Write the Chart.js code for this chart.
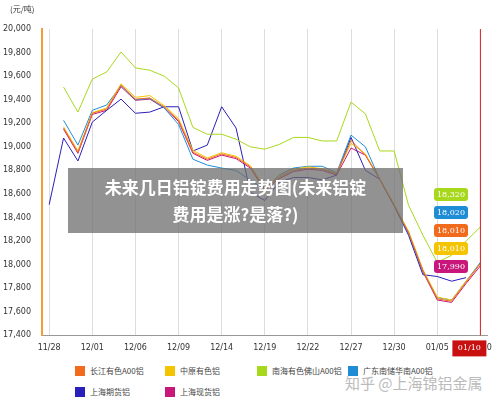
<!DOCTYPE html>
<html><head><meta charset="utf-8">
<script src="https://cdn.jsdelivr.net/npm/chart.js@4"></script>
<style>
body{margin:0;background:#fff;font-family:"Noto Sans CJK SC","DejaVu Sans",sans-serif;}
#wrap{position:relative;width:500px;height:407px;}
#c{position:absolute;left:0;top:0;}
.unit{position:absolute;left:10px;top:3px;font-size:8px;color:#333;}
.banner{position:absolute;left:68px;top:168px;width:335px;height:65px;background:rgba(110,110,110,0.75);color:#fff;font-weight:bold;font-size:17px;text-align:center;line-height:27px;padding-top:5px;box-sizing:border-box;}
.lg{position:absolute;font-size:8px;color:#444;display:flex;align-items:center;}
.lg i{display:inline-block;width:10px;height:10px;margin-right:5px;}
.wm{position:absolute;left:345px;top:372px;font-size:15px;color:#bbb;}
</style></head><body>
<div id="wrap">
<canvas id="c" width="500" height="361"></canvas>
<div class="unit">(元/吨)</div>
<div class="banner">未来几日铝锭费用走势图(未来铝锭<br>费用是涨?是落?)</div>
<div id="legend"></div>
<div class="wm">知乎 @上海锦铝金属</div>
</div>
<script>
const tickDates = ['11/28','12/01','12/06','12/09','12/14','12/19','12/22','12/27','12/30','01/05','01/10'];
const categories = [];
tickDates.forEach((d,i)=>{categories.push(d); if(i<tickDates.length-1){categories.push(d+' '); categories.push(d+'  ');}});
const seriesNames = ['长江有色A00铝','中原有色铝','南海有色佛山A00铝','广东南储华南A00铝','上海期货铝','上海现货铝'];
const seriesColors = ['#f26b1d','#f5c400','#a8d81c','#1f8dd6','#2a1fb8','#c9167a'];
const changjiang = [null,19160,18955,19285,19320,19525,19405,19415,19340,19225,18955,18895,18940,18910,18830,18640,18740,18800,18820,18810,18770,19055,18930,18725,18505,18275,17950,17710,17690,17850,18010];
const zhongyuan  = [null,19170,18965,19290,19330,19535,19420,19435,19350,19240,18970,18905,18950,18920,18840,18650,18750,18810,18830,18815,18775,19030,18940,18730,18510,18285,17960,17725,17700,17860,18010];
const nanhai     = [null,19507,19295,19575,19635,19805,19670,19650,19600,19500,19165,19107,19107,19065,19000,18980,19020,19080,19080,19050,19050,19380,19280,18965,18965,18505,18250,18020,18080,18200,18320];
const guangdong  = [null,19225,19015,19310,19355,19520,19400,19410,19330,19190,18895,18845,18820,18800,18715,18640,18760,18820,18835,18835,18780,19100,19000,18725,18500,18270,17950,17720,17700,17860,18020];
const shfutures  = [18510,19075,18880,19210,19310,19405,19285,19295,19340,19340,18965,19015,19340,19160,18615,18545,18700,18740,18740,18720,18760,19080,18800,18725,18500,18250,17915,17900,17860,17890,null];
const shspot     = [null,19150,18945,19275,19310,19510,19395,19405,19330,19215,18945,18885,18930,18900,18820,18630,18730,18790,18810,18800,18760,18990,18930,18725,18500,18270,17940,17700,17680,17840,17990];
const allSeries = [changjiang,zhongyuan,nanhai,guangdong,shfutures,shspot];
const endLabels = [{v:'18,320',c:'#a8d81c'},{v:'18,020',c:'#1f8dd6'},{v:'18,010',c:'#f26b1d'},{v:'18,010',c:'#f5c400'},{v:'17,990',c:'#c9167a'}];

const lpos=[[75,365],[165,365],[257,365],[348,365],[75,386],[165,386]];
const lg=document.getElementById('legend');
seriesNames.forEach((n,i)=>{const d=document.createElement('div');d.className='lg';d.style.left=lpos[i][0]+'px';d.style.top=lpos[i][1]+'px';d.innerHTML='<i style="background:'+seriesColors[i]+'"></i>'+n;lg.appendChild(d);});

const overlay={id:'ov',afterDraw(ch){
 const ctx=ch.ctx,x=ch.scales.x,y=ch.scales.y;
 const xl=x.getPixelForValue(30);
 ctx.save();ctx.strokeStyle='#d42020';ctx.lineWidth=1;ctx.beginPath();ctx.moveTo(xl,y.top);ctx.lineTo(xl,y.bottom);ctx.stroke();
 ctx.fillStyle='#c81010';ctx.fillRect(xl-28,y.bottom+5,34,16);
 ctx.fillStyle='#fff';ctx.font='8px "DejaVu Serif"';ctx.textAlign='center';ctx.textBaseline='middle';ctx.fillText('01/10',xl-11,y.bottom+13);
 endLabels.forEach((l,i)=>{const bx=434,by=188+i*18;ctx.fillStyle=l.c;ctx.beginPath();ctx.roundRect(bx,by,34,13,3);ctx.fill();ctx.fillStyle='#fff';ctx.font='8px "DejaVu Serif"';ctx.fillText(l.v,bx+17,by+7);});
 ctx.restore();
}};

new Chart(document.getElementById('c'),{
 type:'line',
 data:{labels:categories,datasets:allSeries.map((d,i)=>({label:seriesNames[i],data:d,borderColor:seriesColors[i],borderWidth:1,pointRadius:0,tension:0,fill:false,spanGaps:false}))},
 options:{responsive:false,animation:false,
  layout:{padding:{left:0,right:5,top:29,bottom:0}},
  plugins:{legend:{display:false},tooltip:{enabled:false}},
  scales:{
   x:{offset:true,grid:{display:true,color:'#ddd',offset:false,drawTicks:false,tickLength:0,tickBorderDash:[2,2]},border:{color:'#999',dash:[]},
      afterBuildTicks(s){s.ticks=s.ticks.filter(t=>t.value%3===0);},
      ticks:{autoSkip:false,maxRotation:0,padding:8,color:'#333',font:{size:8,family:'DejaVu Sans'},callback(v){return this.getLabelForValue(v).trim();}}},
   y:{min:17400,max:20000,afterFit(s){s.width=42;},grid:{display:false},border:{color:'#f59b3a',width:2},
      ticks:{stepSize:200,color:'#333',font:{size:8,family:'DejaVu Sans'},callback:v=>v.toLocaleString('en-US')}}
  }},
 plugins:[overlay]
});
</script>
</body></html>
